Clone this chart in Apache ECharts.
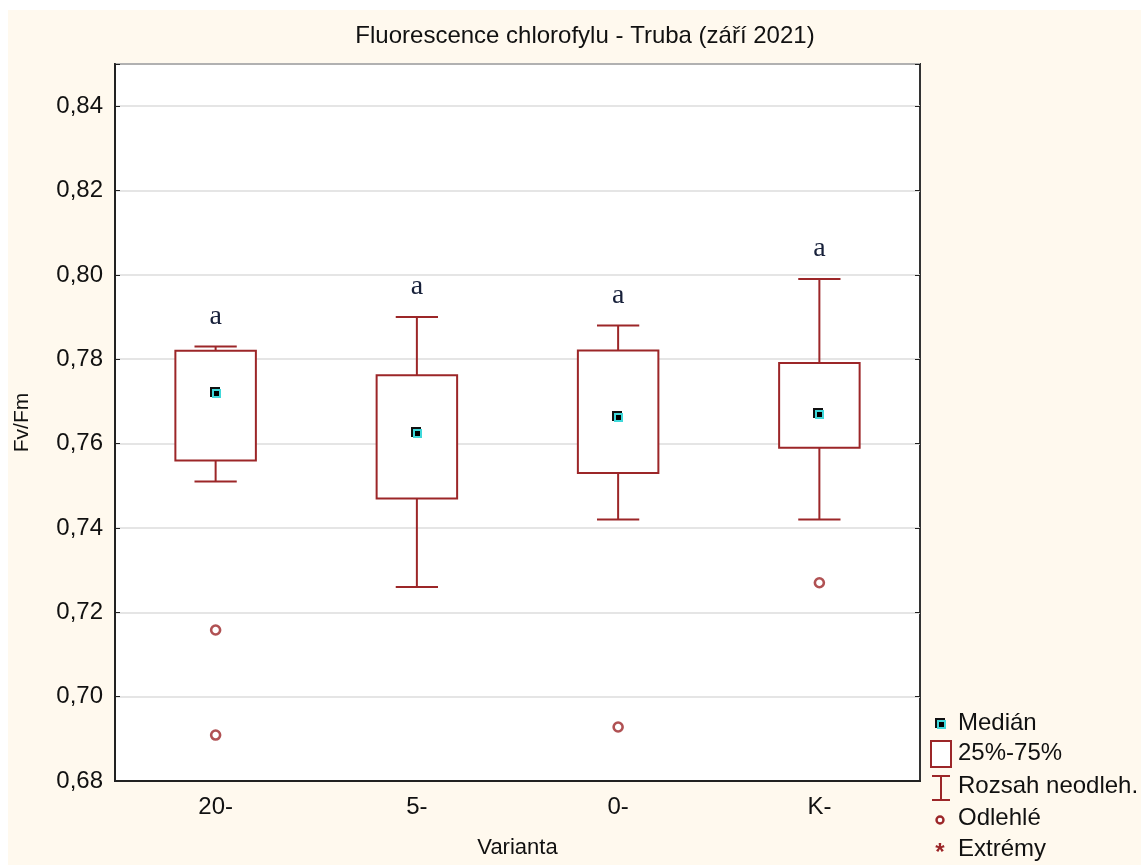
<!DOCTYPE html>
<html>
<head>
<meta charset="utf-8">
<script src="https://cdn.jsdelivr.net/npm/echarts@6/dist/echarts.min.js"></script>
<style>
  html, body { margin: 0; padding: 0; background: #fff; }
  #chart {
    width: 1141px; height: 865px;
    background: linear-gradient(#FFF9EE, #FFF9EE) no-repeat 8px 10px / calc(100% - 8px) calc(100% - 10px), #fff;
  }
</style>
</head>
<body>
<div id="chart"></div>
<script>
// Fv/Fm by variant: box = 25%-75%, whiskers = non-outlier range
const categories   = ['20-', '5-', '0-', 'K-'];
const whiskerLow   = [0.751, 0.726, 0.742, 0.742];
const quartile1    = [0.756, 0.747, 0.753, 0.759];
const medians      = [0.772, 0.7626, 0.7662, 0.7671];
const quartile3    = [0.782, 0.7762, 0.7821, 0.7791];
const whiskerHigh  = [0.783, 0.790, 0.788, 0.799];
const outliers     = [[0, 0.7158], [0, 0.6909], [2, 0.6928], [3, 0.7270]];
const groupLetters = ['a', 'a', 'a', 'a'];

const RED = '#9C2628';
const CYAN = '#3FD8DA';
const FONT = '"Liberation Sans", Arial, sans-serif';

const boxData = categories.map((c, i) => [i, whiskerLow[i], quartile1[i], medians[i], quartile3[i], whiskerHigh[i]]);

const chart = echarts.init(document.getElementById('chart'));

function medianMarker(cx, cy) {
  return [
    { type: 'polyline', shape: { points: [[cx - 5, cy + 4], [cx - 5, cy - 5], [cx + 4, cy - 5]] },
      style: { stroke: '#111', lineWidth: 2, fill: null } },
    { type: 'rect', shape: { x: cx - 4, y: cy - 4, width: 9, height: 9 },
      style: { fill: CYAN } },
    { type: 'rect', shape: { x: cx - 2, y: cy - 2, width: 5, height: 5 },
      style: { fill: '#000' } }
  ];
}

function legendText(txt, y) {
  return { type: 'text', x: 958, y: y,
    style: { text: txt, font: '24px ' + FONT, fill: '#111', verticalAlign: 'middle' } };
}

const option = {
  backgroundColor: 'transparent',
  animation: false,
  title: {
    text: 'Fluorescence chlorofylu - Truba (září 2021)',
    left: 580, top: 19, textAlign: 'center',
    textStyle: { fontFamily: FONT, fontSize: 24, fontWeight: 'normal', color: '#111' }
  },
  grid: {
    left: 115, right: 221, top: 64, bottom: 84,
    show: true, backgroundColor: '#fff', borderColor: '#333', borderWidth: 2
  },
  xAxis: [{
    type: 'category', data: categories, position: 'bottom',
    name: 'Varianta', nameLocation: 'middle', nameGap: 56,
    nameTextStyle: { fontFamily: FONT, fontSize: 22, color: '#111' },
    axisLine: { lineStyle: { color: '#222', width: 2 } },
    axisTick: { inside: true, alignWithLabel: true, length: 5, lineStyle: { color: '#222' } },
    axisLabel: { fontFamily: FONT, fontSize: 24, color: '#111', margin: 14 },
    splitLine: { show: false }
  }, {
    type: 'category', data: categories, position: 'top',
    axisLine: { show: false },
    axisTick: { inside: true, alignWithLabel: true, length: 5, lineStyle: { color: '#222' } },
    axisLabel: { show: false }
  }],
  yAxis: [{
    type: 'value', min: 0.68, max: 0.85, interval: 0.02,
    name: 'Fv/Fm', nameLocation: 'middle', nameGap: 82, nameRotate: 90,
    nameTextStyle: { fontFamily: FONT, fontSize: 21, color: '#111' },
    axisLine: { show: true, lineStyle: { color: '#222', width: 2 } },
    axisTick: { show: true, inside: true, length: 5, lineStyle: { color: '#222' } },
    axisLabel: { fontFamily: FONT, fontSize: 24, color: '#111', margin: 12,
      formatter: v => v > 0.845 ? '' : v.toFixed(2).replace('.', ',') },
    splitLine: { show: true, lineStyle: { color: '#DCDCDC', width: 1.5 } }
  }, {
    type: 'value', min: 0.68, max: 0.85, interval: 0.02, position: 'right',
    axisLine: { show: false },
    axisTick: { show: true, inside: true, length: 5, lineStyle: { color: '#222' } },
    axisLabel: { show: false },
    splitLine: { show: false }
  }],
  series: [
    {
      name: 'Rozsah neodleh.', type: 'custom', data: boxData, z: 3,
      renderItem: (params, api) => {
        const i = api.value(0);
        const w = api.size([1, 0])[0];
        const capHalf = w * 0.105;
        const pLow = api.coord([i, api.value(1)]);
        const pQ1 = api.coord([i, api.value(2)]);
        const pQ3 = api.coord([i, api.value(4)]);
        const pHigh = api.coord([i, api.value(5)]);
        const st = { stroke: RED, lineWidth: 2, fill: null };
        return { type: 'group', children: [
          { type: 'line', shape: { x1: pLow[0], y1: pLow[1], x2: pQ1[0], y2: pQ1[1] }, style: st },
          { type: 'line', shape: { x1: pHigh[0], y1: pHigh[1], x2: pQ3[0], y2: pQ3[1] }, style: st },
          { type: 'line', shape: { x1: pLow[0] - capHalf, y1: pLow[1], x2: pLow[0] + capHalf, y2: pLow[1] }, style: st },
          { type: 'line', shape: { x1: pHigh[0] - capHalf, y1: pHigh[1], x2: pHigh[0] + capHalf, y2: pHigh[1] }, style: st }
        ] };
      }
    },
    {
      name: '25%-75%', type: 'custom', data: boxData, z: 4,
      renderItem: (params, api) => {
        const i = api.value(0);
        const w = api.size([1, 0])[0];
        const half = w * 0.2;
        const pQ1 = api.coord([i, api.value(2)]);
        const pQ3 = api.coord([i, api.value(4)]);
        return { type: 'rect',
          shape: { x: pQ1[0] - half, y: pQ3[1], width: half * 2, height: pQ1[1] - pQ3[1] },
          style: { stroke: RED, lineWidth: 2, fill: '#fff' } };
      }
    },
    {
      name: 'Medián', type: 'custom', data: boxData, z: 5,
      renderItem: (params, api) => {
        const p = api.coord([api.value(0), api.value(3)]);
        return { type: 'group', children: medianMarker(Math.round(p[0]), Math.round(p[1])) };
      }
    },
    {
      name: 'Odlehlé', type: 'scatter', data: outliers, z: 5,
      symbol: 'circle', symbolSize: 9,
      itemStyle: { color: '#fff', borderColor: RED, borderWidth: 2.6 }
    },
    {
      name: 'letters', type: 'custom', data: boxData, z: 5,
      renderItem: (params, api) => {
        const i = api.value(0);
        const p = api.coord([i, api.value(5)]);
        return { type: 'text', x: p[0], y: p[1] - 30,
          style: { text: groupLetters[i], fill: '#17203A', align: 'center', verticalAlign: 'middle',
            font: '28px "Liberation Serif", "DejaVu Serif", serif' } };
      }
    }
  ],
  graphic: [
    // legend block on the right
    ...medianMarker(941, 724),
    legendText('Medián', 723),
    { type: 'rect', shape: { x: 931, y: 741, width: 20, height: 26 }, style: { stroke: RED, lineWidth: 2, fill: '#fff' } },
    legendText('25%-75%', 753),
    { type: 'line', shape: { x1: 932, y1: 776, x2: 950, y2: 776 }, style: { stroke: RED, lineWidth: 2 } },
    { type: 'line', shape: { x1: 941, y1: 776, x2: 941, y2: 800 }, style: { stroke: RED, lineWidth: 2 } },
    { type: 'line', shape: { x1: 932, y1: 800, x2: 950, y2: 800 }, style: { stroke: RED, lineWidth: 2 } },
    legendText('Rozsah neodleh.', 786),
    { type: 'circle', shape: { cx: 940, cy: 820, r: 3.5 }, style: { stroke: RED, lineWidth: 2.4, fill: '#fff' } },
    legendText('Odlehlé', 818),
    { type: 'text', x: 940, y: 853, style: { text: '*', font: 'bold 24px ' + FONT, fill: RED, align: 'center', verticalAlign: 'middle' } },
    legendText('Extrémy', 849)
  ]
};

chart.setOption(option);
</script>
</body>
</html>
